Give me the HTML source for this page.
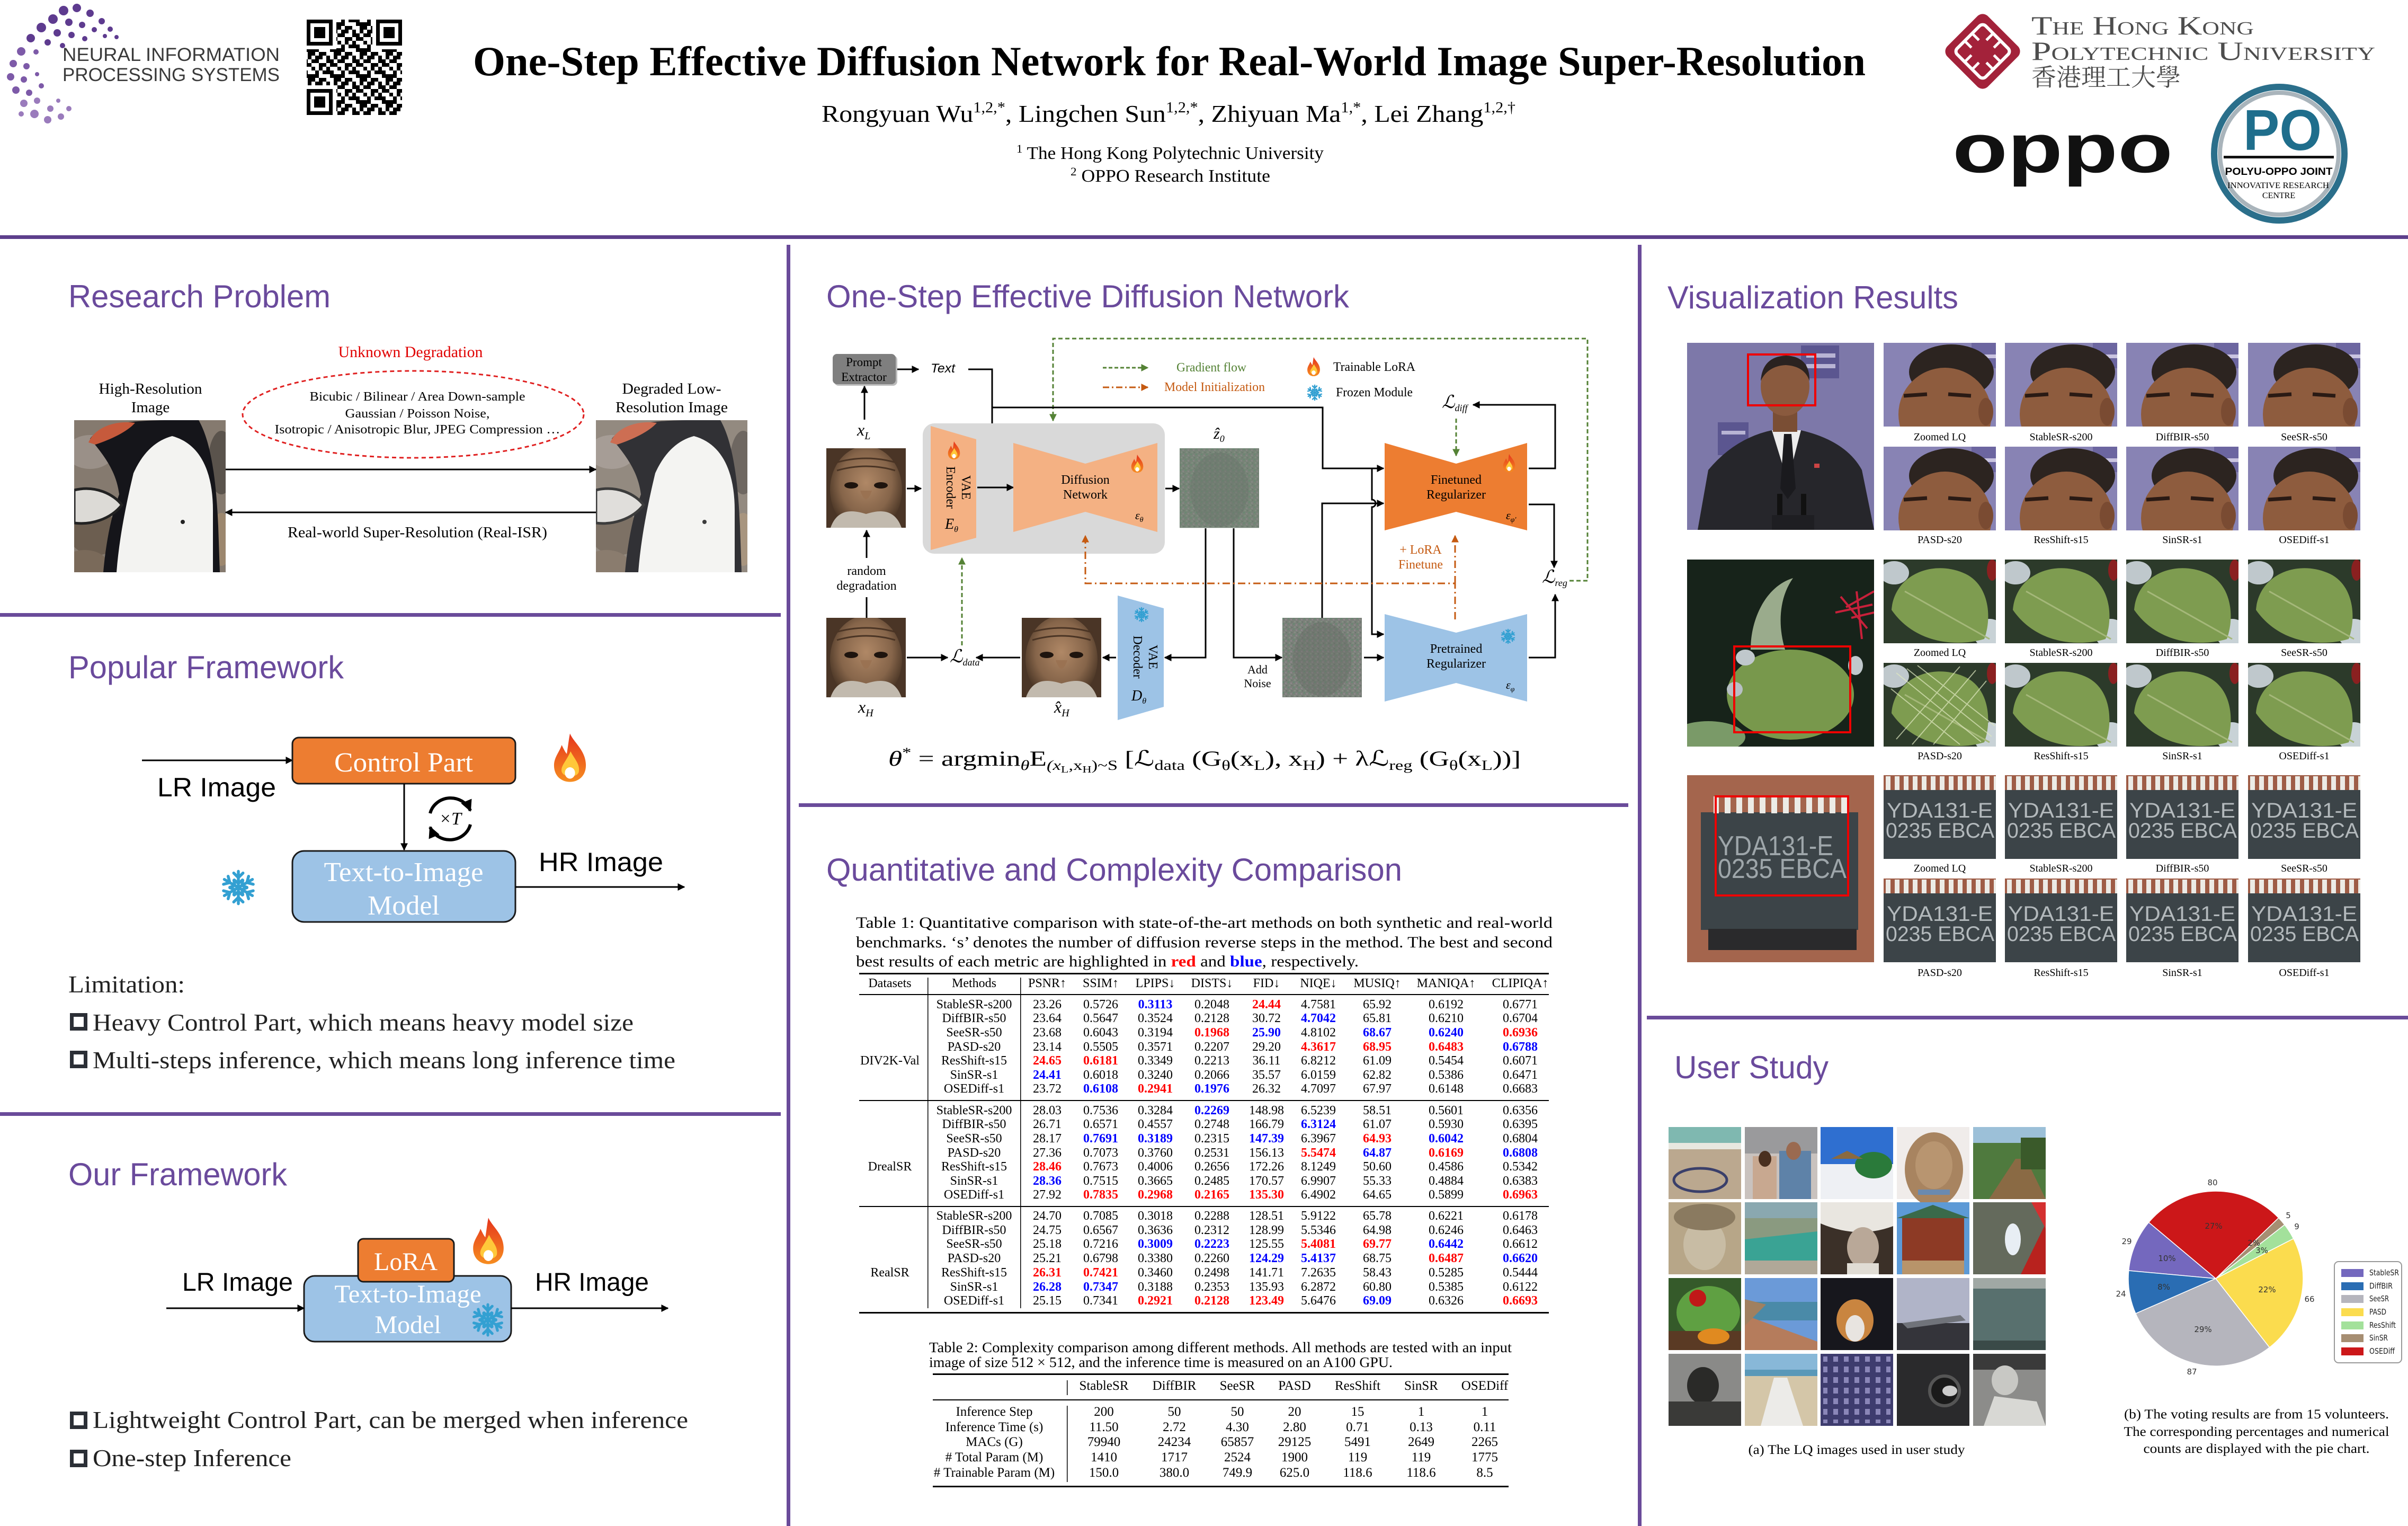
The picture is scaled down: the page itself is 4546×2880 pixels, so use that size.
<!DOCTYPE html>
<html><head><meta charset="utf-8">
<style>
html,body{margin:0;padding:0;background:#fff;}
svg{display:block}
text{font-family:"Liberation Serif","DejaVu Serif",serif}
.sans{font-family:"Liberation Sans","DejaVu Sans",sans-serif}
.dv{font-family:"DejaVu Sans","Liberation Sans",sans-serif}
.cjk{font-family:"Liberation Serif","Noto Serif CJK SC","Noto Sans CJK TC",serif}
.ttl{font-family:"Liberation Sans",sans-serif;font-size:60px;fill:#6a4a9c}
.r{fill:#f00;font-weight:bold}
.b{fill:#00f;font-weight:bold}
</style></head><body>
<svg width="4546" height="2880" viewBox="0 0 4546 2880" xmlns="http://www.w3.org/2000/svg">
<defs>
<linearGradient id="fg" x1="0" y1="0" x2="0" y2="1"><stop offset="0" stop-color="#e5341c"/><stop offset="1" stop-color="#f68d20"/></linearGradient>
<radialGradient id="skin" cx="0.5" cy="0.42" r="0.6"><stop offset="0" stop-color="#b08866"/><stop offset="0.6" stop-color="#86654a"/><stop offset="1" stop-color="#3e2c1e"/></radialGradient>
<symbol id="flame" viewBox="0 0 60 80">
<path d="M30 2C36 16 54 28 55 50C56 68 44 78 30 78C16 78 4 68 5 50C6 38 14 30 17 20C21 28 23 32 25 34C27 22 28 12 30 2Z" fill="url(#fg)"/>
<path d="M31 30C37 42 46 50 44 62C42 72 20 72 17 62C15 53 24 46 31 30Z" fill="#ffc83a"/>
<ellipse cx="30" cy="64" rx="8" ry="9" fill="#fff"/>
</symbol>
<symbol id="snow" viewBox="-32 -32 64 64">
<g stroke="#33a0d2" stroke-width="5" stroke-linecap="round" fill="none">
<path id="arm" d="M0 0V-28M-8 -25L0 -17L8 -25M-7 -13L0 -7L7 -13"/>
<use href="#arm" transform="rotate(60)"/><use href="#arm" transform="rotate(120)"/><use href="#arm" transform="rotate(180)"/><use href="#arm" transform="rotate(240)"/><use href="#arm" transform="rotate(300)"/>
</g></symbol>
<marker id="a" viewBox="0 0 10 10" refX="9" refY="5" markerWidth="14" markerHeight="14" markerUnits="userSpaceOnUse" orient="auto"><path d="M0 0L10 5L0 10Z" fill="#000"/></marker>
<marker id="a2" viewBox="0 0 10 10" refX="9" refY="5" markerWidth="22" markerHeight="22" markerUnits="userSpaceOnUse" orient="auto"><path d="M0 0L10 5L0 10Z" fill="#000"/></marker>
<marker id="ag" viewBox="0 0 10 10" refX="9" refY="5" markerWidth="14" markerHeight="14" markerUnits="userSpaceOnUse" orient="auto"><path d="M0 0L10 5L0 10Z" fill="#548235"/></marker>
<marker id="ao" viewBox="0 0 10 10" refX="9" refY="5" markerWidth="14" markerHeight="14" markerUnits="userSpaceOnUse" orient="auto"><path d="M0 0L10 5L0 10Z" fill="#c55a11"/></marker>
<pattern id="qr" width="49" height="49" patternUnits="userSpaceOnUse">
<g fill="#000">
<rect x="0" y="0" width="7" height="7"/><rect x="14" y="0" width="7" height="7"/><rect x="21" y="0" width="7" height="7"/><rect x="42" y="0" width="7" height="7"/>
<rect x="7" y="7" width="7" height="7"/><rect x="14" y="7" width="7" height="7"/><rect x="28" y="7" width="7" height="7"/><rect x="42" y="7" width="7" height="7"/>
<rect x="0" y="14" width="7" height="7"/><rect x="7" y="14" width="7" height="7"/><rect x="28" y="14" width="7" height="7"/><rect x="35" y="14" width="7" height="7"/>
<rect x="14" y="21" width="7" height="7"/><rect x="21" y="21" width="7" height="7"/><rect x="35" y="21" width="7" height="7"/><rect x="42" y="21" width="7" height="7"/>
<rect x="0" y="28" width="7" height="7"/><rect x="14" y="28" width="7" height="7"/><rect x="28" y="28" width="7" height="7"/>
<rect x="7" y="35" width="7" height="7"/><rect x="21" y="35" width="7" height="7"/><rect x="28" y="35" width="7" height="7"/><rect x="35" y="35" width="7" height="7"/>
<rect x="0" y="42" width="7" height="7"/><rect x="7" y="42" width="7" height="7"/><rect x="35" y="42" width="7" height="7"/><rect x="42" y="42" width="7" height="7"/>
</g></pattern>
<pattern id="np" width="10" height="10" patternUnits="userSpaceOnUse">
<rect x="0" y="0" width="3" height="3" fill="#5c8c6c"/><rect x="5" y="2" width="3" height="3" fill="#9a8a96"/><rect x="2" y="6" width="3" height="3" fill="#8a9a8a"/><rect x="7" y="7" width="2" height="2" fill="#5a6a60"/>
</pattern>
<pattern id="pins" width="17" height="26" patternUnits="userSpaceOnUse"><rect x="4" y="0" width="9" height="26" fill="#ecebe6"/></pattern>
<pattern id="pins2" width="22" height="32" patternUnits="userSpaceOnUse"><rect x="5" y="0" width="11" height="32" fill="#ecebe6"/></pattern>
<pattern id="win" width="20" height="20" patternUnits="userSpaceOnUse"><rect x="4" y="4" width="9" height="11" fill="#8a86b8"/></pattern>
<clipPath id="c150"><rect width="150" height="150"/></clipPath>
<clipPath id="csm"><rect width="212" height="158"/></clipPath>
<clipPath id="cbig"><rect width="353" height="353"/></clipPath>
<clipPath id="cpg"><rect width="286" height="287"/></clipPath>

<g id="peng"><g clip-path="url(#cpg)">
<rect width="286" height="287" fill="#857a6f"/>
<ellipse cx="30" cy="60" rx="45" ry="32" fill="#9a9088"/>
<ellipse cx="40" cy="215" rx="50" ry="40" fill="#6c5e50"/>
<ellipse cx="278" cy="80" rx="25" ry="60" fill="#5a534c"/>
<ellipse cx="278" cy="225" rx="22" ry="50" fill="#9c876e"/>
<ellipse cx="20" cy="275" rx="45" ry="30" fill="#7a6a5a"/>
<path d="M30 35C50 8 100 0 180 0L235 0C258 40 268 110 272 200L275 287L55 287C60 230 70 180 85 140C80 100 60 70 30 35Z" fill="#15151a"/>
<path d="M185 30C240 45 262 100 262 170C262 230 262 265 262 287L80 287C85 220 100 150 112 100C130 60 155 38 185 30Z" fill="#f3f3f1"/>
<path d="M27 42C40 12 80 0 115 5C100 22 70 36 40 46Z" fill="#c65a3c"/>
<path d="M0 132C40 122 75 140 90 160C68 188 30 198 0 194Z" fill="#dcdad6" stroke="#222" stroke-width="5"/>
<circle cx="205" cy="192" r="4" fill="#222"/>
</g></g>

<g id="face"><g clip-path="url(#c150)">
<rect width="150" height="150" fill="#4a3526"/>
<ellipse cx="75" cy="78" rx="68" ry="82" fill="url(#skin)"/>
<path d="M15 28Q75 10 135 28M20 42Q75 26 130 42" stroke="#4a3424" stroke-width="3" fill="none"/>
<ellipse cx="47" cy="70" rx="13" ry="6" fill="#1e140e"/>
<ellipse cx="103" cy="70" rx="13" ry="6" fill="#1e140e"/>
<path d="M64 80Q75 112 86 80" fill="#9a7252"/>
<path d="M8 150C22 110 55 118 75 124C95 118 128 110 142 150Z" fill="#c2baae"/>
</g></g>

<g id="noisy"><g clip-path="url(#c150)">
<rect width="150" height="150" fill="#7a8079"/>
<rect width="150" height="150" fill="url(#np)" opacity="0.55"/>
<ellipse cx="75" cy="78" rx="55" ry="70" fill="#676d66" opacity="0.45"/>
</g></g>

<g id="ob"><g clip-path="url(#csm)">
<rect width="212" height="158" fill="#8883b4"/>
<rect x="166" y="0" width="46" height="48" fill="#6c66a0"/>
<rect x="176" y="22" width="36" height="7" fill="#c9c4e0"/>
<ellipse cx="128" cy="55" rx="80" ry="52" fill="#2c2420"/>
<ellipse cx="116" cy="135" rx="88" ry="88" fill="#8e5c3e"/>
<ellipse cx="193" cy="130" rx="14" ry="26" fill="#7a4b32"/>
<path d="M38 100L82 97M122 97L165 100" stroke="#2a1a14" stroke-width="7"/>
</g></g>

<g id="obb"><g clip-path="url(#cbig)">
<rect width="353" height="353" fill="#7d78a9"/>
<rect x="215" y="5" width="72" height="62" fill="#5b5690"/>
<rect x="225" y="20" width="55" height="8" fill="#b8b4d4"/><rect x="225" y="40" width="55" height="8" fill="#b8b4d4"/>
<rect x="58" y="150" width="58" height="62" fill="#5b5690"/><rect x="65" y="166" width="45" height="7" fill="#b8b4d4"/>
<path d="M20 353L40 240Q90 180 160 165L215 165Q300 185 330 240L353 353Z" fill="#26262b"/>
<path d="M160 165L190 262L215 165Z" fill="#ececec"/>
<path d="M183 172L197 172L205 275L190 295L176 275Z" fill="#1a1a1e"/>
<rect x="162" y="118" width="46" height="50" fill="#7a4e34"/>
<ellipse cx="185" cy="82" rx="46" ry="56" fill="#8a5a3e"/>
<path d="M139 72Q142 26 187 24Q232 26 231 72Q222 44 186 42Q152 44 139 72Z" fill="#2a2220"/>
<rect x="170" y="285" width="10" height="50" fill="#111"/><rect x="215" y="285" width="10" height="50" fill="#111"/>
<rect x="160" y="325" width="80" height="28" fill="#1e1e22"/>
<rect x="240" y="228" width="10" height="8" fill="#c44"/>
</g></g>

<g id="lf"><g clip-path="url(#csm)">
<rect width="212" height="158" fill="#2c3a2a"/>
<ellipse cx="20" cy="25" rx="28" ry="22" fill="#bfc8cc"/>
<ellipse cx="200" cy="140" rx="30" ry="28" fill="#c8d2d6"/>
<ellipse cx="205" cy="20" rx="10" ry="20" fill="#8a2020"/>
<path d="M15 95C20 30 90 0 150 25C200 45 205 110 190 150C140 165 60 160 15 95Z" fill="#7e9c50"/>
<path d="M40 60L200 150" stroke="#a5b87a" stroke-width="3"/>
</g></g>

<g id="lfb"><g clip-path="url(#cbig)">
<rect width="353" height="353" fill="#17231a"/>
<path d="M120 170C120 110 150 50 200 35C175 70 170 120 185 170Z" fill="#9aab8c"/>
<ellipse cx="195" cy="255" rx="120" ry="85" fill="#78984c"/>
<ellipse cx="110" cy="185" rx="18" ry="15" fill="#c0c8cc"/>
<ellipse cx="90" cy="245" rx="15" ry="14" fill="#b8c0c4"/>
<ellipse cx="318" cy="200" rx="14" ry="18" fill="#c0c8cc"/>
<path d="M300 90L353 60M310 110L353 100M290 70L340 130M320 60L330 150M280 100L350 85" stroke="#c8203a" stroke-width="4"/>
<ellipse cx="40" cy="335" rx="70" ry="30" fill="#7a9a68"/>
</g></g>

<g id="ch"><g clip-path="url(#csm)">
<rect width="212" height="158" fill="#3c4448"/>
<rect width="212" height="28" fill="#9e5c46"/>
<rect x="0" y="2" width="212" height="26" fill="url(#pins)"/>
<text x="6" y="80" class="sans" font-size="40" fill="#b3b9bc" textLength="200" lengthAdjust="spacingAndGlyphs">YDA131-E</text>
<text x="4" y="118" class="sans" font-size="40" fill="#b3b9bc" textLength="205" lengthAdjust="spacingAndGlyphs">0235 EBCA</text>
</g></g>

<g id="chb"><g clip-path="url(#cbig)">
<rect width="353" height="353" fill="#a4654d"/>
<rect x="26" y="70" width="297" height="222" fill="#3c4448"/>
<rect x="50" y="40" width="262" height="32" fill="url(#pins2)"/>
<rect x="40" y="290" width="280" height="40" fill="#2a2a2c"/>
<text x="58" y="151" class="sans" font-size="52" fill="#9ea6aa" textLength="218" lengthAdjust="spacingAndGlyphs">YDA131-E</text>
<text x="58" y="194" class="sans" font-size="52" fill="#9ea6aa" textLength="243" lengthAdjust="spacingAndGlyphs">0235 EBCA</text>
</g></g>
</defs>

<rect width="4546" height="2880" fill="#fff"/>

<!-- ===== HEADER ===== -->
<g fill="#5e3b8f">
<circle cx="120" cy="20" r="9"/><circle cx="145" cy="15" r="8"/><circle cx="170" cy="25" r="7"/><circle cx="192" cy="40" r="6"/><circle cx="208" cy="55" r="5"/><circle cx="220" cy="70" r="4"/>
<circle cx="100" cy="36" r="9"/><circle cx="130" cy="42" r="7"/><circle cx="155" cy="47" r="6"/><circle cx="178" cy="56" r="5"/><circle cx="198" cy="68" r="4"/>
<circle cx="78" cy="52" r="9"/><circle cx="108" cy="62" r="7"/><circle cx="135" cy="66" r="6"/><circle cx="160" cy="73" r="5"/>
<circle cx="58" cy="72" r="8"/><circle cx="90" cy="80" r="6"/><circle cx="118" cy="86" r="5"/>
</g>
<g fill="#7d5aa8">
<circle cx="40" cy="97" r="8"/><circle cx="68" cy="98" r="5"/><circle cx="25" cy="120" r="7"/><circle cx="50" cy="125" r="6"/><circle cx="20" cy="145" r="7"/><circle cx="45" cy="150" r="6"/><circle cx="70" cy="140" r="4"/><circle cx="30" cy="170" r="7"/><circle cx="55" cy="175" r="6"/><circle cx="78" cy="162" r="5"/>
</g>
<g fill="#9a7bbc">
<circle cx="45" cy="195" r="7"/><circle cx="70" cy="190" r="6"/><circle cx="65" cy="215" r="8"/><circle cx="95" cy="205" r="6"/><circle cx="90" cy="226" r="7"/><circle cx="115" cy="220" r="6"/><circle cx="130" cy="205" r="5"/><circle cx="110" cy="190" r="4"/><circle cx="40" cy="215" r="5"/>
</g>
<text x="118" y="115" class="sans" font-size="35" fill="#3a3a3a" textLength="410" lengthAdjust="spacingAndGlyphs">NEURAL INFORMATION</text>
<text x="118" y="153" class="sans" font-size="35" fill="#3a3a3a" textLength="410" lengthAdjust="spacingAndGlyphs">PROCESSING SYSTEMS</text>

<rect x="579" y="37" width="180" height="180" fill="url(#qr)"/>
<g>
<rect x="579" y="37" width="56" height="56" fill="#fff"/><rect x="579" y="37" width="49" height="49" fill="#000"/><rect x="586" y="44" width="35" height="35" fill="#fff"/><rect x="593" y="51" width="21" height="21" fill="#000"/>
<rect x="703" y="37" width="56" height="56" fill="#fff"/><rect x="710" y="37" width="49" height="49" fill="#000"/><rect x="717" y="44" width="35" height="35" fill="#fff"/><rect x="724" y="51" width="21" height="21" fill="#000"/>
<rect x="579" y="161" width="56" height="56" fill="#fff"/><rect x="579" y="168" width="49" height="49" fill="#000"/><rect x="586" y="175" width="35" height="35" fill="#fff"/><rect x="593" y="182" width="21" height="21" fill="#000"/>
</g>

<text x="893" y="142" font-size="78" font-weight="bold" textLength="2629" lengthAdjust="spacingAndGlyphs">One-Step Effective Diffusion Network  for Real-World Image Super-Resolution</text>
<text x="1551" y="230" font-size="46" textLength="1310" lengthAdjust="spacingAndGlyphs">Rongyuan Wu<tspan font-size="28" dy="-18">1,2,*</tspan><tspan dy="18">, Lingchen Sun</tspan><tspan font-size="28" dy="-18">1,2,*</tspan><tspan dy="18">, Zhiyuan Ma</tspan><tspan font-size="28" dy="-18">1,*</tspan><tspan dy="18">, Lei Zhang</tspan><tspan font-size="28" dy="-18">1,2,†</tspan></text>
<text x="1919" y="300" font-size="34" textLength="580" lengthAdjust="spacingAndGlyphs"><tspan font-size="22" dy="-12">1</tspan><tspan dy="12"> The Hong Kong Polytechnic University</tspan></text>
<text x="2021" y="343" font-size="34" textLength="377" lengthAdjust="spacingAndGlyphs"><tspan font-size="22" dy="-12">2</tspan><tspan dy="12"> OPPO Research Institute</tspan></text>

<!-- PolyU -->
<g transform="translate(3743,97) rotate(45)">
<rect x="-54" y="-54" width="108" height="108" rx="14" fill="#a3223a"/>
<rect x="-38" y="-38" width="76" height="76" rx="8" fill="none" stroke="#fff" stroke-width="6"/>
<path d="M-38 -10H38M-38 10H38M-10 -38V38M10 -38V38" stroke="#fff" stroke-width="5"/>
<rect x="-20" y="-20" width="40" height="40" fill="#a3223a"/>
</g>
<text x="3835" y="65" font-size="50" fill="#4d4d4d" style="font-variant:small-caps" textLength="420" lengthAdjust="spacingAndGlyphs">The Hong Kong</text>
<text x="3835" y="113" font-size="50" fill="#4d4d4d" style="font-variant:small-caps" textLength="649" lengthAdjust="spacingAndGlyphs">Polytechnic University</text>
<text x="3835" y="162" class="cjk" font-size="46" fill="#4d4d4d" textLength="282" lengthAdjust="spacingAndGlyphs">香港理工大學</text>

<text x="3686" y="325" class="sans" font-size="131" font-weight="bold" fill="#111" textLength="416" lengthAdjust="spacingAndGlyphs">oppo</text>

<ellipse cx="4303" cy="290" rx="123" ry="126" fill="#fff" stroke="#2b6f8b" stroke-width="12"/>
<ellipse cx="4303" cy="290" rx="112" ry="115" fill="none" stroke="#a9b4bb" stroke-width="8"/>
<text x="4309" y="283" text-anchor="middle" class="sans" font-size="109" font-weight="bold" fill="#1f6e8c" textLength="148" lengthAdjust="spacingAndGlyphs">PO</text>
<rect x="4198" y="294" width="208" height="5" fill="#111"/>
<text x="4302" y="330" text-anchor="middle" class="sans" font-size="19" font-weight="bold" textLength="203" lengthAdjust="spacingAndGlyphs">POLYU-OPPO JOINT</text>
<text x="4301" y="355" text-anchor="middle" font-size="16" textLength="192" lengthAdjust="spacingAndGlyphs">INNOVATIVE RESEARCH</text>
<text x="4302" y="374" text-anchor="middle" font-size="16">CENTRE</text>

<!-- ===== DIVIDERS ===== -->
<rect x="0" y="444" width="4546" height="7" fill="#5d3f8c"/>
<rect x="1485" y="462" width="7" height="2418" fill="#6a4b9a"/>
<rect x="3092" y="462" width="7" height="2418" fill="#6a4b9a"/>
<rect x="0" y="1157" width="1474" height="7" fill="#6a4b9a"/>
<rect x="0" y="2099" width="1474" height="7" fill="#6a4b9a"/>
<rect x="1508" y="1516" width="1566" height="7" fill="#6a4b9a"/>
<rect x="3109" y="1917" width="1437" height="7" fill="#6a4b9a"/>

<!-- ===== RESEARCH PROBLEM ===== -->
<text x="129" y="580" class="ttl" textLength="495" lengthAdjust="spacingAndGlyphs">Research Problem</text>
<text x="775" y="674" text-anchor="middle" font-size="30" fill="#e00000" textLength="273" lengthAdjust="spacingAndGlyphs">Unknown Degradation</text>
<ellipse cx="780" cy="782" rx="322" ry="82" fill="none" stroke="#e02020" stroke-width="3" stroke-dasharray="8 6"/>
<text x="788" y="756" text-anchor="middle" font-size="24" textLength="407" lengthAdjust="spacingAndGlyphs">Bicubic / Bilinear / Area Down-sample</text>
<text x="788" y="788" text-anchor="middle" font-size="24" textLength="273" lengthAdjust="spacingAndGlyphs">Gaussian / Poisson Noise,</text>
<text x="788" y="818" text-anchor="middle" font-size="24" textLength="539" lengthAdjust="spacingAndGlyphs">Isotropic / Anisotropic Blur, JPEG Compression …</text>
<text x="284" y="743" text-anchor="middle" font-size="29" textLength="195" lengthAdjust="spacingAndGlyphs">High-Resolution</text>
<text x="284" y="778" text-anchor="middle" font-size="29">Image</text>
<text x="1268" y="743" text-anchor="middle" font-size="29" textLength="187" lengthAdjust="spacingAndGlyphs">Degraded Low-</text>
<text x="1268" y="778" text-anchor="middle" font-size="29" textLength="212" lengthAdjust="spacingAndGlyphs">Resolution Image</text>
<use href="#peng" x="140" y="793"/>
<use href="#peng" x="1125" y="793"/>
<rect x="1125" y="793" width="286" height="287" fill="#fff" opacity="0.12"/>
<path d="M426 886H1125" stroke="#000" stroke-width="3" marker-end="url(#a)"/>
<path d="M1125 967H426" stroke="#000" stroke-width="3" marker-end="url(#a)"/>
<text x="788" y="1014" text-anchor="middle" font-size="29" textLength="490" lengthAdjust="spacingAndGlyphs">Real-world Super-Resolution (Real-ISR)</text>

<!-- ===== POPULAR FRAMEWORK ===== -->
<text x="129" y="1280" class="ttl" textLength="520" lengthAdjust="spacingAndGlyphs">Popular Framework</text>
<path d="M268 1435H552" stroke="#000" stroke-width="3" marker-end="url(#a)"/>
<text x="297" y="1503" class="sans" font-size="50" textLength="224" lengthAdjust="spacingAndGlyphs">LR Image</text>
<rect x="552" y="1392" width="421" height="87" rx="12" fill="#ed7d31" stroke="#1a1a1a" stroke-width="3"/>
<text x="762" y="1456" text-anchor="middle" font-size="52" fill="#fff" textLength="262" lengthAdjust="spacingAndGlyphs">Control Part</text>
<use href="#flame" x="1040" y="1380" width="72" height="100"/>
<path d="M763 1479V1604" stroke="#000" stroke-width="3" marker-end="url(#a)"/>
<path d="M812 1535A40 38 0 0 1 888 1530" fill="none" stroke="#000" stroke-width="6" marker-end="url(#a2)"/>
<path d="M888 1556A40 38 0 0 1 812 1561" fill="none" stroke="#000" stroke-width="6" marker-end="url(#a2)"/>
<text x="850" y="1556" text-anchor="middle" font-size="34" font-style="italic">×T</text>
<rect x="552" y="1606" width="421" height="134" rx="22" fill="#9dc3e6" stroke="#1a1a1a" stroke-width="3"/>
<text x="762" y="1663" text-anchor="middle" font-size="52" fill="#fff" textLength="301" lengthAdjust="spacingAndGlyphs">Text-to-Image</text>
<text x="762" y="1726" text-anchor="middle" font-size="52" fill="#fff">Model</text>
<use href="#snow" x="415" y="1640" width="70" height="70"/>
<text x="1017" y="1644" class="sans" font-size="50" textLength="235" lengthAdjust="spacingAndGlyphs">HR Image</text>
<path d="M973 1674H1292" stroke="#000" stroke-width="3" marker-end="url(#a)"/>
<text x="129" y="1873" font-size="46" fill="#222" textLength="220" lengthAdjust="spacingAndGlyphs">Limitation:</text>
<rect x="135.5" y="1915.5" width="26" height="26" fill="none" stroke="#2b2f36" stroke-width="7"/>
<text x="175" y="1945" font-size="46" fill="#222" textLength="1021" lengthAdjust="spacingAndGlyphs">Heavy Control Part, which means heavy model size</text>
<rect x="135.5" y="1986.5" width="26" height="26" fill="none" stroke="#2b2f36" stroke-width="7"/>
<text x="175" y="2016" font-size="46" fill="#222" textLength="1100" lengthAdjust="spacingAndGlyphs">Multi-steps inference, which means long inference time</text>

<!-- ===== OUR FRAMEWORK ===== -->
<text x="129" y="2237" class="ttl" textLength="413" lengthAdjust="spacingAndGlyphs">Our Framework</text>
<rect x="574" y="2408" width="391" height="124" rx="20" fill="#9dc3e6" stroke="#1a1a1a" stroke-width="3"/>
<rect x="676" y="2338" width="181" height="81" rx="10" fill="#ed7d31" stroke="#1a1a1a" stroke-width="3"/>
<text x="766" y="2397" text-anchor="middle" font-size="48" fill="#fff" textLength="120" lengthAdjust="spacingAndGlyphs">LoRA</text>
<text x="770" y="2458" text-anchor="middle" font-size="48" fill="#fff" textLength="277" lengthAdjust="spacingAndGlyphs">Text-to-Image</text>
<text x="770" y="2516" text-anchor="middle" font-size="48" fill="#fff">Model</text>
<use href="#flame" x="887" y="2296" width="70" height="92"/>
<use href="#snow" x="888" y="2458" width="66" height="66"/>
<text x="344" y="2436" class="sans" font-size="48" textLength="209" lengthAdjust="spacingAndGlyphs">LR Image</text>
<path d="M314 2469H574" stroke="#000" stroke-width="3" marker-end="url(#a)"/>
<text x="1010" y="2436" class="sans" font-size="48" textLength="215" lengthAdjust="spacingAndGlyphs">HR Image</text>
<path d="M965 2469H1261" stroke="#000" stroke-width="3" marker-end="url(#a)"/>
<rect x="135.5" y="2667.5" width="26" height="26" fill="none" stroke="#2b2f36" stroke-width="7"/>
<text x="175" y="2695" font-size="46" fill="#222" textLength="1124" lengthAdjust="spacingAndGlyphs">Lightweight Control Part, can be merged when inference</text>
<rect x="135.5" y="2739.5" width="26" height="26" fill="none" stroke="#2b2f36" stroke-width="7"/>
<text x="175" y="2767" font-size="46" fill="#222" textLength="375" lengthAdjust="spacingAndGlyphs">One-step Inference</text>

<!-- ===== ONE-STEP NETWORK DIAGRAM ===== -->
<text x="1560" y="580" class="ttl" textLength="987" lengthAdjust="spacingAndGlyphs">One-Step Effective Diffusion Network</text>

<path d="M2082 694H2167" stroke="#548235" stroke-width="3" stroke-dasharray="7 4" marker-end="url(#ag)"/>
<text x="2221" y="701" font-size="24" fill="#548235" textLength="132" lengthAdjust="spacingAndGlyphs">Gradient flow</text>
<path d="M2082 731H2167" stroke="#c55a11" stroke-width="3" stroke-dasharray="12 5 3 5" marker-end="url(#ao)"/>
<text x="2198" y="738" font-size="24" fill="#c55a11" textLength="190" lengthAdjust="spacingAndGlyphs">Model Initialization</text>
<use href="#flame" x="2465" y="673" width="30" height="38"/>
<text x="2517" y="700" font-size="24" textLength="155" lengthAdjust="spacingAndGlyphs">Trainable LoRA</text>
<use href="#snow" x="2466" y="725" width="32" height="32"/>
<text x="2522" y="748" font-size="24" textLength="145" lengthAdjust="spacingAndGlyphs">Frozen Module</text>

<path d="M2963 1096H2997V639H1988V794" fill="none" stroke="#548235" stroke-width="3" stroke-dasharray="8 5" marker-end="url(#ag)"/>

<rect x="1575" y="671" width="119" height="57" rx="8" fill="#bbb"/>
<rect x="1572" y="668" width="119" height="57" rx="8" fill="#7f7f7f"/>
<text x="1631" y="691" text-anchor="middle" font-size="23">Prompt</text>
<text x="1631" y="719" text-anchor="middle" font-size="23">Extractor</text>
<path d="M1694 697H1734" stroke="#000" stroke-width="3" marker-end="url(#a)"/>
<text x="1757" y="703" class="sans" font-size="24" font-style="italic" textLength="46" lengthAdjust="spacingAndGlyphs">Text</text>
<path d="M1828 697H1873V877H1913" fill="none" stroke="#000" stroke-width="3" marker-end="url(#a)"/>
<path d="M1873 769H2497V884H2612" fill="none" stroke="#000" stroke-width="3" marker-end="url(#a)"/>
<path d="M1632 792V729" stroke="#000" stroke-width="3" marker-end="url(#a)"/>
<text x="1618" y="822" font-size="32" font-style="italic">x<tspan font-size="20" dy="7">L</tspan></text>

<rect x="1742" y="799" width="457" height="246" rx="22" fill="#d9d9d9"/>
<polygon points="1757,804 1843,829 1843,1015 1757,1038" fill="#f4b183"/>
<text transform="translate(1816,920) rotate(90)" text-anchor="middle" font-size="24">VAE</text>
<text transform="translate(1787,920) rotate(90)" text-anchor="middle" font-size="24">Encoder</text>
<text x="1784" y="998" font-size="28" font-style="italic">E<tspan font-size="16" dy="6">θ</tspan></text>
<use href="#flame" x="1787" y="832" width="28" height="36"/>
<use href="#face" x="1560" y="846"/>
<path d="M1712 922H1739" stroke="#000" stroke-width="3" marker-end="url(#a)"/>
<path d="M1845 920H1913" stroke="#000" stroke-width="3" marker-end="url(#a)"/>
<polygon points="1913,836 2049,875 2185,836 2185,1004 2049,966 1913,1004" fill="#f4b183"/>
<text x="2049" y="913" text-anchor="middle" font-size="24">Diffusion</text>
<text x="2049" y="941" text-anchor="middle" font-size="24">Network</text>
<use href="#flame" x="2133" y="857" width="28" height="36"/>
<text x="2143" y="980" font-size="22" font-style="italic">ε<tspan font-size="14" dy="5">θ</tspan></text>
<path d="M2200 922H2226" stroke="#000" stroke-width="3" marker-end="url(#a)"/>
<use href="#noisy" x="2227" y="846"/>
<rect x="2227" y="846" width="150" height="151" fill="#6f8a74" opacity="0.25"/>
<text x="2291" y="828" font-size="30" font-style="italic">ẑ<tspan font-size="18" dy="6">0</tspan></text>

<path d="M1636 1053V1001" stroke="#000" stroke-width="3" marker-end="url(#a)"/>
<text x="1636" y="1085" text-anchor="middle" font-size="24">random</text>
<text x="1636" y="1113" text-anchor="middle" font-size="24">degradation</text>
<path d="M1636 1166V1127" stroke="#000" stroke-width="3"/>
<use href="#face" x="1560" y="1166"/>
<text x="1620" y="1345" font-size="32" font-style="italic">x<tspan font-size="20" dy="7">H</tspan></text>
<path d="M1712 1241H1789" stroke="#000" stroke-width="3" marker-end="url(#a)"/>
<text x="1793" y="1250" font-size="34" font-style="italic">ℒ<tspan font-size="18" dy="6">data</tspan></text>
<path d="M1816 1218V1053" stroke="#548235" stroke-width="3" stroke-dasharray="8 5" marker-end="url(#ag)"/>
<path d="M1926 1241H1843" stroke="#000" stroke-width="3" marker-end="url(#a)"/>
<use href="#face" x="1929" y="1166"/>
<text x="1990" y="1345" font-size="32" font-style="italic">x̂<tspan font-size="20" dy="7">H</tspan></text>
<polygon points="2110,1124 2197,1148 2197,1334 2110,1359" fill="#9dc3e6"/>
<text transform="translate(2169,1240) rotate(90)" text-anchor="middle" font-size="24">VAE</text>
<text transform="translate(2140,1240) rotate(90)" text-anchor="middle" font-size="24">Decoder</text>
<use href="#snow" x="2140" y="1145" width="30" height="30"/>
<text x="2136" y="1322" font-size="28" font-style="italic">D<tspan font-size="16" dy="6">θ</tspan></text>
<path d="M2107 1241H2082" stroke="#000" stroke-width="3" marker-end="url(#a)"/>
<path d="M2276 997V1241H2199" fill="none" stroke="#000" stroke-width="3" marker-end="url(#a)"/>
<path d="M2329 997V1241H2420" fill="none" stroke="#000" stroke-width="3" marker-end="url(#a)"/>
<text x="2374" y="1271" text-anchor="middle" font-size="22">Add</text>
<text x="2374" y="1297" text-anchor="middle" font-size="22">Noise</text>
<use href="#noisy" x="2421" y="1166"/>
<path d="M2496 1166V950H2612" fill="none" stroke="#000" stroke-width="3" marker-end="url(#a)"/>
<path d="M2575 1241H2612" stroke="#000" stroke-width="3" marker-end="url(#a)"/>
<path d="M2590 884V943A7 7 0 0 1 2590 957V1197H2612" fill="none" stroke="#000" stroke-width="3" marker-end="url(#a)"/>

<polygon points="2614,836 2749,875 2883,836 2883,1001 2749,966 2614,1001" fill="#ed7d31"/>
<text x="2749" y="913" text-anchor="middle" font-size="24">Finetuned</text>
<text x="2749" y="941" text-anchor="middle" font-size="24">Regularizer</text>
<use href="#flame" x="2835" y="856" width="28" height="36"/>
<text x="2843" y="980" font-size="22" font-style="italic">ε<tspan font-size="14" dy="5">φ'</tspan></text>
<text x="2722" y="770" font-size="34" font-style="italic">ℒ<tspan font-size="18" dy="6">diff</tspan></text>
<path d="M2886 884H2936V764H2781" fill="none" stroke="#000" stroke-width="3" marker-end="url(#a)"/>
<path d="M2749 790V860" stroke="#548235" stroke-width="3" stroke-dasharray="8 5" marker-end="url(#ag)"/>
<path d="M2886 952H2934V1071" fill="none" stroke="#000" stroke-width="3" marker-end="url(#a)"/>
<text x="2911" y="1100" font-size="34" font-style="italic">ℒ<tspan font-size="18" dy="6">reg</tspan></text>
<path d="M2886 1241H2936V1122" fill="none" stroke="#000" stroke-width="3" marker-end="url(#a)"/>

<polygon points="2614,1159 2749,1194 2883,1159 2883,1324 2749,1289 2614,1324" fill="#9dc3e6"/>
<text x="2749" y="1232" text-anchor="middle" font-size="24">Pretrained</text>
<text x="2749" y="1260" text-anchor="middle" font-size="24">Regularizer</text>
<use href="#snow" x="2832" y="1186" width="30" height="30"/>
<text x="2843" y="1300" font-size="22" font-style="italic">ε<tspan font-size="14" dy="5">φ</tspan></text>

<path d="M2747 1169V1101H2049V1011" fill="none" stroke="#c55a11" stroke-width="3" stroke-dasharray="14 6 3 6" marker-end="url(#ao)"/>
<path d="M2747 1101V1011" fill="none" stroke="#c55a11" stroke-width="3" stroke-dasharray="14 6 3 6" marker-end="url(#ao)"/>
<text x="2682" y="1045" text-anchor="middle" font-size="24" fill="#c55a11">+ LoRA</text>
<text x="2682" y="1073" text-anchor="middle" font-size="24" fill="#c55a11">Finetune</text>

<text x="1677" y="1445" font-size="40" textLength="1194" lengthAdjust="spacingAndGlyphs"><tspan font-style="italic">θ</tspan><tspan font-size="26" dy="-16">*</tspan><tspan dy="16"> = argmin</tspan><tspan font-size="26" dy="8" font-style="italic">θ</tspan><tspan dy="-8">E</tspan><tspan font-size="26" dy="8" font-style="italic">(x</tspan><tspan font-size="18" dy="5">L</tspan><tspan font-size="26" dy="-5">,x</tspan><tspan font-size="18" dy="5">H</tspan><tspan font-size="26" dy="-5">)~S</tspan><tspan dy="-8"> [ℒ</tspan><tspan font-size="26" dy="8">data</tspan><tspan dy="-8"> (G</tspan><tspan font-size="26" dy="8">θ</tspan><tspan dy="-8">(x</tspan><tspan font-size="26" dy="8">L</tspan><tspan dy="-8">), x</tspan><tspan font-size="26" dy="8">H</tspan><tspan dy="-8">) + λℒ</tspan><tspan font-size="26" dy="8">reg</tspan><tspan dy="-8"> (G</tspan><tspan font-size="26" dy="8">θ</tspan><tspan dy="-8">(x</tspan><tspan font-size="26" dy="8">L</tspan><tspan dy="-8">))]</tspan></text>

<!-- ===== QUANTITATIVE ===== -->
<text x="1560" y="1662" class="ttl" textLength="1087" lengthAdjust="spacingAndGlyphs">Quantitative and Complexity Comparison</text>
<text x="1616" y="1751" font-size="30" textLength="1315" lengthAdjust="spacingAndGlyphs">Table 1: Quantitative comparison with state-of-the-art methods on both synthetic and real-world</text>
<text x="1616" y="1788" font-size="30" textLength="1315" lengthAdjust="spacingAndGlyphs">benchmarks. ‘s’ denotes the number of diffusion reverse steps in the method. The best and second</text>
<text x="1616" y="1824" font-size="30" textLength="949" lengthAdjust="spacingAndGlyphs">best results of each metric are highlighted in <tspan class="r">red</tspan> and <tspan class="b">blue</tspan>, respectively.</text>

<rect x="1622" y="1836" width="1302" height="3" fill="#000"/>
<rect x="1622" y="1876" width="1302" height="2" fill="#000"/>
<rect x="1622" y="2076" width="1302" height="2" fill="#000"/>
<rect x="1622" y="2276" width="1302" height="2" fill="#000"/>
<rect x="1622" y="2476" width="1302" height="3" fill="#000"/>
<rect x="1751" y="1845" width="1.5" height="624" fill="#000"/>
<rect x="1926" y="1845" width="1.5" height="624" fill="#000"/>

<g font-size="24" text-anchor="middle">
<text y="1863"><tspan x="1680">Datasets</tspan><tspan x="1839">Methods</tspan><tspan x="1977">PSNR↑</tspan><tspan x="2078">SSIM↑</tspan><tspan x="2181">LPIPS↓</tspan><tspan x="2288">DISTS↓</tspan><tspan x="2391">FID↓</tspan><tspan x="2489">NIQE↓</tspan><tspan x="2600">MUSIQ↑</tspan><tspan x="2730">MANIQA↑</tspan><tspan x="2870">CLIPIQA↑</tspan></text>

<text x="1680" y="2009">DIV2K-Val</text>
<text y="1903"><tspan x="1839">StableSR-s200</tspan><tspan x="1977">23.26</tspan><tspan x="2078">0.5726</tspan><tspan x="2181" class="b">0.3113</tspan><tspan x="2288">0.2048</tspan><tspan x="2391" class="r">24.44</tspan><tspan x="2489">4.7581</tspan><tspan x="2600">65.92</tspan><tspan x="2730">0.6192</tspan><tspan x="2870">0.6771</tspan></text>
<text y="1929"><tspan x="1839">DiffBIR-s50</tspan><tspan x="1977">23.64</tspan><tspan x="2078">0.5647</tspan><tspan x="2181">0.3524</tspan><tspan x="2288">0.2128</tspan><tspan x="2391">30.72</tspan><tspan x="2489" class="b">4.7042</tspan><tspan x="2600">65.81</tspan><tspan x="2730">0.6210</tspan><tspan x="2870">0.6704</tspan></text>
<text y="1956"><tspan x="1839">SeeSR-s50</tspan><tspan x="1977">23.68</tspan><tspan x="2078">0.6043</tspan><tspan x="2181">0.3194</tspan><tspan x="2288" class="r">0.1968</tspan><tspan x="2391" class="b">25.90</tspan><tspan x="2489">4.8102</tspan><tspan x="2600" class="b">68.67</tspan><tspan x="2730" class="b">0.6240</tspan><tspan x="2870" class="r">0.6936</tspan></text>
<text y="1983"><tspan x="1839">PASD-s20</tspan><tspan x="1977">23.14</tspan><tspan x="2078">0.5505</tspan><tspan x="2181">0.3571</tspan><tspan x="2288">0.2207</tspan><tspan x="2391">29.20</tspan><tspan x="2489" class="r">4.3617</tspan><tspan x="2600" class="r">68.95</tspan><tspan x="2730" class="r">0.6483</tspan><tspan x="2870" class="b">0.6788</tspan></text>
<text y="2009"><tspan x="1839">ResShift-s15</tspan><tspan x="1977" class="r">24.65</tspan><tspan x="2078" class="r">0.6181</tspan><tspan x="2181">0.3349</tspan><tspan x="2288">0.2213</tspan><tspan x="2391">36.11</tspan><tspan x="2489">6.8212</tspan><tspan x="2600">61.09</tspan><tspan x="2730">0.5454</tspan><tspan x="2870">0.6071</tspan></text>
<text y="2036"><tspan x="1839">SinSR-s1</tspan><tspan x="1977" class="b">24.41</tspan><tspan x="2078">0.6018</tspan><tspan x="2181">0.3240</tspan><tspan x="2288">0.2066</tspan><tspan x="2391">35.57</tspan><tspan x="2489">6.0159</tspan><tspan x="2600">62.82</tspan><tspan x="2730">0.5386</tspan><tspan x="2870">0.6471</tspan></text>
<text y="2062"><tspan x="1839">OSEDiff-s1</tspan><tspan x="1977">23.72</tspan><tspan x="2078" class="b">0.6108</tspan><tspan x="2181" class="r">0.2941</tspan><tspan x="2288" class="b">0.1976</tspan><tspan x="2391">26.32</tspan><tspan x="2489">4.7097</tspan><tspan x="2600">67.97</tspan><tspan x="2730">0.6148</tspan><tspan x="2870">0.6683</tspan></text>

<text x="1680" y="2209">DrealSR</text>
<text y="2103"><tspan x="1839">StableSR-s200</tspan><tspan x="1977">28.03</tspan><tspan x="2078">0.7536</tspan><tspan x="2181">0.3284</tspan><tspan x="2288" class="b">0.2269</tspan><tspan x="2391">148.98</tspan><tspan x="2489">6.5239</tspan><tspan x="2600">58.51</tspan><tspan x="2730">0.5601</tspan><tspan x="2870">0.6356</tspan></text>
<text y="2129"><tspan x="1839">DiffBIR-s50</tspan><tspan x="1977">26.71</tspan><tspan x="2078">0.6571</tspan><tspan x="2181">0.4557</tspan><tspan x="2288">0.2748</tspan><tspan x="2391">166.79</tspan><tspan x="2489" class="b">6.3124</tspan><tspan x="2600">61.07</tspan><tspan x="2730">0.5930</tspan><tspan x="2870">0.6395</tspan></text>
<text y="2156"><tspan x="1839">SeeSR-s50</tspan><tspan x="1977">28.17</tspan><tspan x="2078" class="b">0.7691</tspan><tspan x="2181" class="b">0.3189</tspan><tspan x="2288">0.2315</tspan><tspan x="2391" class="b">147.39</tspan><tspan x="2489">6.3967</tspan><tspan x="2600" class="r">64.93</tspan><tspan x="2730" class="b">0.6042</tspan><tspan x="2870">0.6804</tspan></text>
<text y="2183"><tspan x="1839">PASD-s20</tspan><tspan x="1977">27.36</tspan><tspan x="2078">0.7073</tspan><tspan x="2181">0.3760</tspan><tspan x="2288">0.2531</tspan><tspan x="2391">156.13</tspan><tspan x="2489" class="r">5.5474</tspan><tspan x="2600" class="b">64.87</tspan><tspan x="2730" class="r">0.6169</tspan><tspan x="2870" class="b">0.6808</tspan></text>
<text y="2209"><tspan x="1839">ResShift-s15</tspan><tspan x="1977" class="r">28.46</tspan><tspan x="2078">0.7673</tspan><tspan x="2181">0.4006</tspan><tspan x="2288">0.2656</tspan><tspan x="2391">172.26</tspan><tspan x="2489">8.1249</tspan><tspan x="2600">50.60</tspan><tspan x="2730">0.4586</tspan><tspan x="2870">0.5342</tspan></text>
<text y="2236"><tspan x="1839">SinSR-s1</tspan><tspan x="1977" class="b">28.36</tspan><tspan x="2078">0.7515</tspan><tspan x="2181">0.3665</tspan><tspan x="2288">0.2485</tspan><tspan x="2391">170.57</tspan><tspan x="2489">6.9907</tspan><tspan x="2600">55.33</tspan><tspan x="2730">0.4884</tspan><tspan x="2870">0.6383</tspan></text>
<text y="2262"><tspan x="1839">OSEDiff-s1</tspan><tspan x="1977">27.92</tspan><tspan x="2078" class="r">0.7835</tspan><tspan x="2181" class="r">0.2968</tspan><tspan x="2288" class="r">0.2165</tspan><tspan x="2391" class="r">135.30</tspan><tspan x="2489">6.4902</tspan><tspan x="2600">64.65</tspan><tspan x="2730">0.5899</tspan><tspan x="2870" class="r">0.6963</tspan></text>

<text x="1680" y="2409">RealSR</text>
<text y="2302"><tspan x="1839">StableSR-s200</tspan><tspan x="1977">24.70</tspan><tspan x="2078">0.7085</tspan><tspan x="2181">0.3018</tspan><tspan x="2288">0.2288</tspan><tspan x="2391">128.51</tspan><tspan x="2489">5.9122</tspan><tspan x="2600">65.78</tspan><tspan x="2730">0.6221</tspan><tspan x="2870">0.6178</tspan></text>
<text y="2329"><tspan x="1839">DiffBIR-s50</tspan><tspan x="1977">24.75</tspan><tspan x="2078">0.6567</tspan><tspan x="2181">0.3636</tspan><tspan x="2288">0.2312</tspan><tspan x="2391">128.99</tspan><tspan x="2489">5.5346</tspan><tspan x="2600">64.98</tspan><tspan x="2730">0.6246</tspan><tspan x="2870">0.6463</tspan></text>
<text y="2355"><tspan x="1839">SeeSR-s50</tspan><tspan x="1977">25.18</tspan><tspan x="2078">0.7216</tspan><tspan x="2181" class="b">0.3009</tspan><tspan x="2288" class="b">0.2223</tspan><tspan x="2391">125.55</tspan><tspan x="2489" class="r">5.4081</tspan><tspan x="2600" class="r">69.77</tspan><tspan x="2730" class="b">0.6442</tspan><tspan x="2870">0.6612</tspan></text>
<text y="2382"><tspan x="1839">PASD-s20</tspan><tspan x="1977">25.21</tspan><tspan x="2078">0.6798</tspan><tspan x="2181">0.3380</tspan><tspan x="2288">0.2260</tspan><tspan x="2391" class="b">124.29</tspan><tspan x="2489" class="b">5.4137</tspan><tspan x="2600">68.75</tspan><tspan x="2730" class="r">0.6487</tspan><tspan x="2870" class="b">0.6620</tspan></text>
<text y="2409"><tspan x="1839">ResShift-s15</tspan><tspan x="1977" class="r">26.31</tspan><tspan x="2078" class="r">0.7421</tspan><tspan x="2181">0.3460</tspan><tspan x="2288">0.2498</tspan><tspan x="2391">141.71</tspan><tspan x="2489">7.2635</tspan><tspan x="2600">58.43</tspan><tspan x="2730">0.5285</tspan><tspan x="2870">0.5444</tspan></text>
<text y="2436"><tspan x="1839">SinSR-s1</tspan><tspan x="1977" class="b">26.28</tspan><tspan x="2078" class="b">0.7347</tspan><tspan x="2181">0.3188</tspan><tspan x="2288">0.2353</tspan><tspan x="2391">135.93</tspan><tspan x="2489">6.2872</tspan><tspan x="2600">60.80</tspan><tspan x="2730">0.5385</tspan><tspan x="2870">0.6122</tspan></text>
<text y="2462"><tspan x="1839">OSEDiff-s1</tspan><tspan x="1977">25.15</tspan><tspan x="2078">0.7341</tspan><tspan x="2181" class="r">0.2921</tspan><tspan x="2288" class="r">0.2128</tspan><tspan x="2391" class="r">123.49</tspan><tspan x="2489">5.6476</tspan><tspan x="2600" class="b">69.09</tspan><tspan x="2730">0.6326</tspan><tspan x="2870" class="r">0.6693</tspan></text>
</g>

<!-- Table 2 -->
<text x="1754" y="2552" font-size="27" textLength="1100" lengthAdjust="spacingAndGlyphs">Table 2: Complexity comparison among different methods.  All methods are tested with an input</text>
<text x="1754" y="2580" font-size="27" textLength="875" lengthAdjust="spacingAndGlyphs">image of size 512 × 512, and the inference time is measured on an A100 GPU.</text>
<rect x="1761" y="2592" width="1087" height="3" fill="#000"/>
<rect x="1761" y="2641" width="1087" height="2" fill="#000"/>
<rect x="1761" y="2804" width="1087" height="3" fill="#000"/>
<rect x="2014" y="2605" width="1.5" height="28" fill="#000"/>
<rect x="2014" y="2653" width="1.5" height="144" fill="#000"/>
<g font-size="25" text-anchor="middle">
<text y="2623"><tspan x="2084">StableSR</tspan><tspan x="2217">DiffBIR</tspan><tspan x="2336">SeeSR</tspan><tspan x="2444">PASD</tspan><tspan x="2563">ResShift</tspan><tspan x="2683">SinSR</tspan><tspan x="2803">OSEDiff</tspan></text>
<text y="2672"><tspan x="1877">Inference Step</tspan><tspan x="2084">200</tspan><tspan x="2217">50</tspan><tspan x="2336">50</tspan><tspan x="2444">20</tspan><tspan x="2563">15</tspan><tspan x="2683">1</tspan><tspan x="2803">1</tspan></text>
<text y="2701"><tspan x="1877">Inference Time (s)</tspan><tspan x="2084">11.50</tspan><tspan x="2217">2.72</tspan><tspan x="2336">4.30</tspan><tspan x="2444">2.80</tspan><tspan x="2563">0.71</tspan><tspan x="2683">0.13</tspan><tspan x="2803">0.11</tspan></text>
<text y="2729"><tspan x="1877">MACs (G)</tspan><tspan x="2084">79940</tspan><tspan x="2217">24234</tspan><tspan x="2336">65857</tspan><tspan x="2444">29125</tspan><tspan x="2563">5491</tspan><tspan x="2683">2649</tspan><tspan x="2803">2265</tspan></text>
<text y="2758"><tspan x="1877"># Total Param (M)</tspan><tspan x="2084">1410</tspan><tspan x="2217">1717</tspan><tspan x="2336">2524</tspan><tspan x="2444">1900</tspan><tspan x="2563">119</tspan><tspan x="2683">119</tspan><tspan x="2803">1775</tspan></text>
<text y="2787"><tspan x="1877"># Trainable Param (M)</tspan><tspan x="2084">150.0</tspan><tspan x="2217">380.0</tspan><tspan x="2336">749.9</tspan><tspan x="2444">625.0</tspan><tspan x="2563">118.6</tspan><tspan x="2683">118.6</tspan><tspan x="2803">8.5</tspan></text>
</g>

<!-- ===== VISUALIZATION RESULTS ===== -->
<text x="3148" y="582" class="ttl" textLength="549" lengthAdjust="spacingAndGlyphs">Visualization Results</text>
<use href="#obb" x="3185" y="647"/>
<rect x="3300" y="669" width="127" height="96" fill="none" stroke="#e00" stroke-width="4"/>
<use href="#ob" x="3556" y="647"/><use href="#ob" x="3785" y="647"/><use href="#ob" x="4014" y="647"/><use href="#ob" x="4244" y="647"/>
<use href="#ob" x="3556" y="843"/><use href="#ob" x="3785" y="843"/><use href="#ob" x="4014" y="843"/><use href="#ob" x="4244" y="843"/>

<use href="#lfb" x="3185" y="1056"/>
<rect x="3274" y="1220" width="219" height="162" fill="none" stroke="#e00" stroke-width="4"/>
<use href="#lf" x="3556" y="1056"/><use href="#lf" x="3785" y="1056"/><use href="#lf" x="4014" y="1056"/><use href="#lf" x="4244" y="1056"/>
<use href="#lf" x="3556" y="1251"/><use href="#lf" x="3785" y="1251"/><use href="#lf" x="4014" y="1251"/><use href="#lf" x="4244" y="1251"/>
<g stroke="#dfe8c0" stroke-width="2" opacity="0.7"><path d="M3580 1270L3740 1400M3600 1262L3760 1390M3620 1256L3766 1370M3570 1300L3700 1405M3700 1258L3580 1395M3730 1265L3610 1405M3750 1285L3650 1405"/></g>

<use href="#chb" x="3185" y="1463"/>
<rect x="3239" y="1503" width="250" height="187" fill="none" stroke="#e00" stroke-width="4"/>
<use href="#ch" x="3556" y="1463"/><use href="#ch" x="3785" y="1463"/><use href="#ch" x="4014" y="1463"/><use href="#ch" x="4244" y="1463"/>
<use href="#ch" x="3556" y="1658"/><use href="#ch" x="3785" y="1658"/><use href="#ch" x="4014" y="1658"/><use href="#ch" x="4244" y="1658"/>

<g font-size="20" text-anchor="middle">
<text y="831"><tspan x="3662">Zoomed LQ</tspan><tspan x="3891">StableSR-s200</tspan><tspan x="4120">DiffBIR-s50</tspan><tspan x="4350">SeeSR-s50</tspan></text>
<text y="1025"><tspan x="3662">PASD-s20</tspan><tspan x="3891">ResShift-s15</tspan><tspan x="4120">SinSR-s1</tspan><tspan x="4350">OSEDiff-s1</tspan></text>
<text y="1238"><tspan x="3662">Zoomed LQ</tspan><tspan x="3891">StableSR-s200</tspan><tspan x="4120">DiffBIR-s50</tspan><tspan x="4350">SeeSR-s50</tspan></text>
<text y="1433"><tspan x="3662">PASD-s20</tspan><tspan x="3891">ResShift-s15</tspan><tspan x="4120">SinSR-s1</tspan><tspan x="4350">OSEDiff-s1</tspan></text>
<text y="1645"><tspan x="3662">Zoomed LQ</tspan><tspan x="3891">StableSR-s200</tspan><tspan x="4120">DiffBIR-s50</tspan><tspan x="4350">SeeSR-s50</tspan></text>
<text y="1842"><tspan x="3662">PASD-s20</tspan><tspan x="3891">ResShift-s15</tspan><tspan x="4120">SinSR-s1</tspan><tspan x="4350">OSEDiff-s1</tspan></text>
</g>

<!-- ===== USER STUDY ===== -->
<text x="3161" y="2035" class="ttl" textLength="291" lengthAdjust="spacingAndGlyphs">User Study</text>

<g transform="translate(3150,2127)"><rect width="137" height="136" fill="#bba88f"/><rect width="137" height="30" fill="#7fb8b0"/><rect y="30" width="137" height="12" fill="#e8e8e0"/><ellipse cx="60" cy="100" rx="50" ry="22" fill="none" stroke="#3a3f6a" stroke-width="5"/></g>
<g transform="translate(3294,2127)"><rect width="137" height="136" fill="#c9c2be"/><rect width="137" height="50" fill="#9a9a9c"/><rect x="15" y="55" width="45" height="81" fill="#c8a890"/><rect x="65" y="45" width="60" height="91" fill="#5e82a8"/><ellipse cx="92" cy="45" rx="14" ry="17" fill="#9a6a50"/><ellipse cx="38" cy="60" rx="12" ry="15" fill="#4a3020"/></g>
<g transform="translate(3437,2127)"><rect width="137" height="136" fill="#2f6fd0"/><rect y="70" width="137" height="66" fill="#eef0f4"/><ellipse cx="100" cy="72" rx="35" ry="25" fill="#2a7a3a"/><path d="M20 60L50 45L80 60Z" fill="#8a6a40"/></g>
<g transform="translate(3581,2127)"><rect width="137" height="136" fill="#f0ecea"/><ellipse cx="70" cy="80" rx="55" ry="70" fill="#a88460"/><ellipse cx="70" cy="72" rx="35" ry="45" fill="#b89570"/><rect x="40" y="118" width="60" height="10" fill="#6a8ab0"/></g>
<g transform="translate(3725,2127)"><rect width="137" height="136" fill="#4f7a3e"/><rect width="137" height="30" fill="#9cc0d8"/><path d="M30 136L80 60L100 60L137 136Z" fill="#8a6a44"/><rect x="90" y="20" width="47" height="60" fill="#3a5a2a"/></g>
<g transform="translate(3150,2269)"><rect width="137" height="136" fill="#b7a688"/><ellipse cx="68" cy="80" rx="40" ry="48" fill="#c8bca4"/><ellipse cx="68" cy="28" rx="58" ry="25" fill="#8a7a60"/></g>
<g transform="translate(3294,2269)"><rect width="137" height="136" fill="#3aa394"/><rect width="137" height="30" fill="#8aa8b0"/><path d="M0 30L137 30L137 55L0 70Z" fill="#8a9a80"/><rect y="110" width="137" height="26" fill="#b0a898"/></g>
<g transform="translate(3437,2269)"><rect width="137" height="136" fill="#3b3028"/><path d="M0 0H137V45Q70 70 0 40Z" fill="#e9e6e0"/><ellipse cx="80" cy="85" rx="30" ry="38" fill="#b9a898"/><rect x="50" y="115" width="60" height="21" fill="#e0dcd4"/></g>
<g transform="translate(3581,2269)"><rect width="137" height="136" fill="#5d9ad6"/><rect x="10" y="30" width="117" height="106" fill="#8d3a25"/><path d="M0 30L68 5L137 30Z" fill="#3a6a4a"/><rect x="10" y="110" width="117" height="26" fill="#b8946a"/></g>
<g transform="translate(3725,2269)"><rect width="137" height="136" fill="#646a5c"/><path d="M90 136L137 40L137 136Z" fill="#b8221e"/><ellipse cx="75" cy="70" rx="15" ry="30" fill="#e8eef4"/><path d="M110 0L137 0L137 50Z" fill="#d43030"/></g>
<g transform="translate(3150,2412)"><rect width="137" height="136" fill="#355a2a"/><ellipse cx="75" cy="65" rx="60" ry="50" fill="#5fa042"/><circle cx="55" cy="38" r="16" fill="#c01818"/><rect y="100" width="137" height="36" fill="#5a3a24"/><ellipse cx="85" cy="110" rx="30" ry="15" fill="#e08a20"/></g>
<g transform="translate(3294,2412)"><rect width="137" height="136" fill="#6b9ad8"/><rect y="45" width="137" height="35" fill="#4a8aa8"/><path d="M0 70L137 120L137 136L0 136Z" fill="#b57c5c"/><path d="M0 40L40 50L0 90Z" fill="#a08060"/></g>
<g transform="translate(3437,2412)"><rect width="137" height="136" fill="#17171d"/><ellipse cx="65" cy="80" rx="35" ry="40" fill="#c98540"/><ellipse cx="65" cy="95" rx="18" ry="25" fill="#e8e4e0"/></g>
<g transform="translate(3581,2412)"><rect width="137" height="136" fill="#b0b4c8"/><rect y="85" width="137" height="51" fill="#34343a"/><path d="M10 85L120 70L130 80L20 95Z" fill="#70737a"/></g>
<g transform="translate(3725,2412)"><rect width="137" height="136" fill="#58706e"/><rect width="137" height="20" fill="#a0a8a4"/><rect y="118" width="137" height="18" fill="#3a4a48"/></g>
<g transform="translate(3150,2555)"><rect width="137" height="136" fill="#8a8a88"/><ellipse cx="65" cy="60" rx="30" ry="35" fill="#2a2a28"/><rect y="90" width="137" height="46" fill="#3a3a38"/></g>
<g transform="translate(3294,2555)"><rect width="137" height="136" fill="#d4c6a8"/><rect width="137" height="30" fill="#88b8d8"/><rect y="30" width="137" height="12" fill="#5a98b8"/><path d="M55 45L80 45L110 136L30 136Z" fill="#ecebe8"/></g>
<g transform="translate(3437,2555)"><rect width="137" height="136" fill="#3e3c6e"/><rect x="5" y="5" width="127" height="126" fill="url(#win)"/></g>
<g transform="translate(3581,2555)"><rect width="137" height="136" fill="#2a2a2c"/><circle cx="90" cy="70" r="28" fill="#1a1a1a" stroke="#555" stroke-width="6"/><ellipse cx="100" cy="70" rx="14" ry="10" fill="#ccc"/></g>
<g transform="translate(3725,2555)"><rect width="137" height="136" fill="#8c8c8a"/><rect width="137" height="30" fill="#3a3a3a"/><ellipse cx="60" cy="50" rx="25" ry="28" fill="#c8c8c4"/><path d="M20 136L40 80L120 90L137 136Z" fill="#d8d8d4"/></g>

<text x="3505" y="2744" text-anchor="middle" font-size="25" textLength="409" lengthAdjust="spacingAndGlyphs">(a) The LQ images used in user study</text>

<g stroke="#fff" stroke-width="1.5">
<path d="M4183 2413L4056.6 2306.9A165 165 0 0 0 4018.7 2398.0Z" fill="#7468be"/>
<path d="M4183 2413L4018.7 2398.0A165 165 0 0 0 4031.8 2479.1Z" fill="#2a6db3"/>
<path d="M4183 2413L4031.8 2479.1A165 165 0 0 0 4284.6 2543.0Z" fill="#b5b5bd"/>
<path d="M4183 2413L4284.6 2543.0A165 165 0 0 0 4329.8 2337.6Z" fill="#fbdc4e"/>
<path d="M4183 2413L4329.8 2337.6A165 165 0 0 0 4313.0 2311.4Z" fill="#a3e19b"/>
<path d="M4183 2413L4313.0 2311.4A165 165 0 0 0 4301.7 2298.4Z" fill="#a68e72"/>
<path d="M4183 2413L4301.7 2298.4A165 165 0 0 0 4056.6 2306.9Z" fill="#cc1719"/>
</g>
<g font-size="15" text-anchor="middle" fill="#333">
<text x="4015" y="2348" class="dv">29</text><text x="4004" y="2447" class="dv">24</text><text x="4138" y="2594" class="dv">87</text><text x="4360" y="2457" class="dv">66</text><text x="4336" y="2320" class="dv">9</text><text x="4320" y="2299" class="dv">5</text><text x="4177" y="2237" class="dv">80</text>
<text x="4091" y="2380" class="dv">10%</text><text x="4085" y="2434" class="dv">8%</text><text x="4159" y="2514" class="dv">29%</text><text x="4280" y="2439" class="dv">22%</text><text x="4270" y="2365" class="dv">3%</text><text x="4255" y="2351" class="dv">2%</text><text x="4179" y="2319" class="dv">27%</text>
</g>
<rect x="4407" y="2381" width="127" height="191" rx="8" fill="#fff" stroke="#999" stroke-width="2"/>
<rect x="4420" y="2395" width="42" height="15" fill="#7468be"/>
<rect x="4420" y="2420" width="42" height="15" fill="#2a6db3"/>
<rect x="4420" y="2444" width="42" height="15" fill="#b5b5bd"/>
<rect x="4420" y="2469" width="42" height="15" fill="#fbdc4e"/>
<rect x="4420" y="2494" width="42" height="15" fill="#a3e19b"/>
<rect x="4420" y="2518" width="42" height="15" fill="#a68e72"/>
<rect x="4420" y="2543" width="42" height="15" fill="#cc1719"/>
<g font-size="15" fill="#222">
<text x="4473" y="2407" class="dv" textLength="56" lengthAdjust="spacingAndGlyphs">StableSR</text>
<text x="4473" y="2432" class="dv" textLength="44" lengthAdjust="spacingAndGlyphs">DiffBIR</text>
<text x="4473" y="2456" class="dv" textLength="37" lengthAdjust="spacingAndGlyphs">SeeSR</text>
<text x="4473" y="2481" class="dv" textLength="32" lengthAdjust="spacingAndGlyphs">PASD</text>
<text x="4473" y="2506" class="dv" textLength="50" lengthAdjust="spacingAndGlyphs">ResShift</text>
<text x="4473" y="2530" class="dv" textLength="35" lengthAdjust="spacingAndGlyphs">SinSR</text>
<text x="4473" y="2555" class="dv" textLength="48" lengthAdjust="spacingAndGlyphs">OSEDiff</text>
</g>
<text x="4260" y="2677" text-anchor="middle" font-size="25" textLength="500" lengthAdjust="spacingAndGlyphs">(b) The voting results are from 15 volunteers.</text>
<text x="4260" y="2710" text-anchor="middle" font-size="25" textLength="501" lengthAdjust="spacingAndGlyphs">The corresponding percentages and numerical</text>
<text x="4260" y="2742" text-anchor="middle" font-size="25" textLength="427" lengthAdjust="spacingAndGlyphs">counts are displayed with the pie chart.</text>
</svg>
</body></html>
